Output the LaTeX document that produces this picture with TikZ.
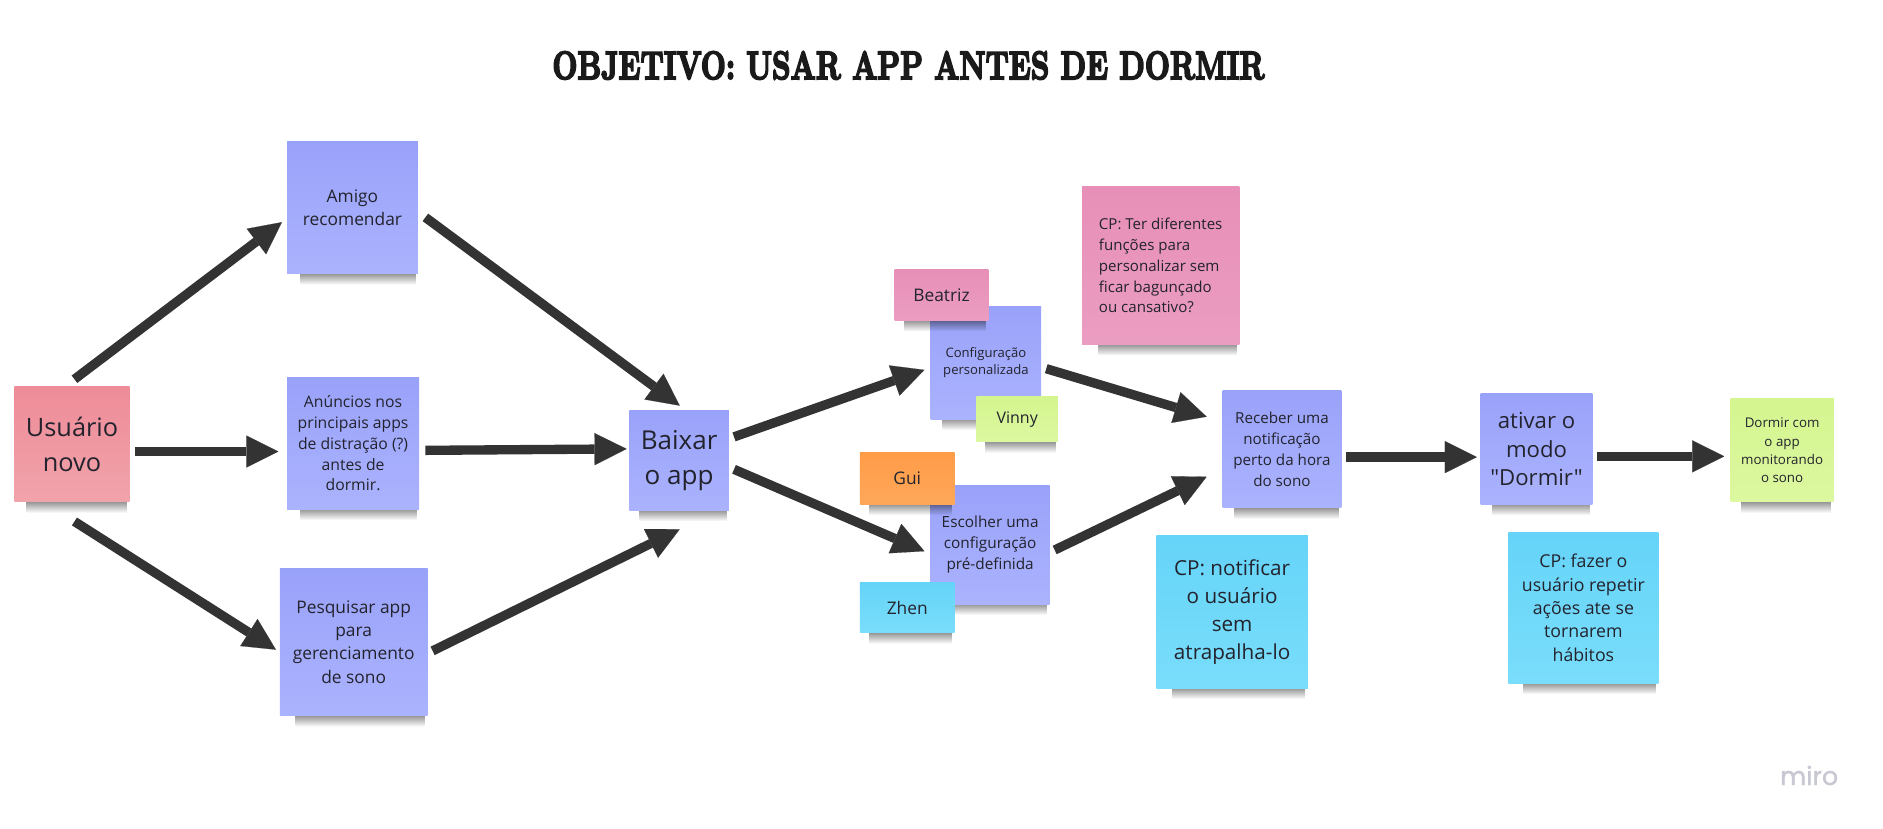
\documentclass[tikz,border=0pt]{standalone}
\usepackage{fontspec}
\usetikzlibrary{arrows.meta,fadings,calc}
\newfontfamily\osans{Open Sans}
\newfontfamily\pop{Poppins}[FakeBold=1.5]
\newfontfamily\ttl{lmroman10-bold.otf}[FakeBold=5]
\definecolor{blueT}{RGB}{153,162,249}
\definecolor{blueB}{RGB}{171,179,254}
\definecolor{redT}{RGB}{238,140,152}
\definecolor{redB}{RGB}{241,163,171}
\definecolor{pinkT}{RGB}{231,143,183}
\definecolor{pinkB}{RGB}{235,157,193}
\definecolor{greenT}{RGB}{212,245,143}
\definecolor{greenB}{RGB}{220,248,160}
\definecolor{orangeT}{RGB}{255,156,72}
\definecolor{orangeB}{RGB}{255,168,90}
\definecolor{cyanT}{RGB}{101,212,248}
\definecolor{cyanB}{RGB}{122,221,251}
\definecolor{arrowc}{RGB}{51,51,51}
\definecolor{notetext}{RGB}{35,35,45}
\definecolor{titlec}{RGB}{26,26,26}
\definecolor{mirogray}{RGB}{200,200,210}
\newcommand\stk[8]{%
  \fill[black,opacity=.5,path fading=south] ({#2+0.1*(#4-#2)},{#5-2}) rectangle ({#4-2},{#5+9});
  \node[minimum width={(#4-#2)*0.9pt}, minimum height={(#5-#3)*0.9pt}, inner sep=0pt, anchor=center,
        text=notetext, align=center, #6, #7] (#1) at ({(#2+#4)/2},{(#3+#5)/2}) {#8};}
\begin{document}
\begin{tikzpicture}[x=0.9pt,y=-0.9pt,
  bluen/.style={top color=blueT, bottom color=blueB},
  redn/.style={top color=redT, bottom color=redB},
  pinkn/.style={top color=pinkT, bottom color=pinkB},
  greenn/.style={top color=greenT, bottom color=greenB},
  orangen/.style={top color=orangeT, bottom color=orangeB},
  cyann/.style={top color=cyanT, bottom color=cyanB},
  fs/.style 2 args={font={\osans\fontsize{#1}{#2}\selectfont}},
  arr/.style={line width=7pt, draw=arrowc, -{Triangle[length=24pt,width=24pt,line width=0.1pt]}}]
\fill[white] (0,0) rectangle (1568,690);
\useasboundingbox (0,0) rectangle (1568,690);

\node[text=titlec, inner sep=0pt] (title) at (756.5,54.5)
  {\resizebox{533.7pt}{20.7pt}{\ttl OBJETIVO: USAR APP ANTES DE DORMIR}};

\stk{u}{12}{322}{108}{418}{redn}{fs={19}{25.8}}{Usuário\\novo}
\stk{amigo}{239}{118}{348}{228}{bluen}{fs={13}{17.8}}{Amigo\\recomendar}
\stk{anun}{239}{314}{349}{424}{bluen}{fs={11.8}{15.7}}{Anúncios nos\\principais apps\\de distração (?)\\antes de\\dormir.}
\stk{pesq}{233}{473}{356}{596}{bluen}{fs={13}{17.5}}{Pesquisar app\\para\\gerenciamento\\de sono}
\stk{baixar}{524}{342}{607}{425}{bluen}{fs={19.5}{26.5}}{Baixar\\o app}
\stk{config}{775}{255}{867}{349}{bluen}{fs={9.8}{13.3}}{Configuração\\personalizada}
\stk{beatriz}{745}{224}{823}{267}{pinkn}{fs={13}{16}}{Beatriz}
\stk{vinny}{813}{330}{881}{368}{greenn}{fs={12}{15}}{Vinny}
\stk{esc}{775}{404}{874}{503}{bluen}{fs={11.5}{15.7}}{Escolher uma\\configuração\\pré-definida}
\stk{gui}{716}{377}{795}{420}{orangen}{fs={13}{16}}{Gui}
\stk{zhen}{716}{485}{795}{527}{cyann}{fs={13}{16}}{Zhen}
\stk{cpter}{901}{155}{1032}{287}{pinkn}{fs={11.3}{15.7},align=left}{CP: Ter diferentes\\funções para\\personalizar sem\\ficar bagunçado\\ou cansativo?}
\stk{receber}{1018}{325}{1117}{423}{bluen}{fs={11.4}{15.7}}{Receber uma\\notificação\\perto da hora\\do sono}
\stk{cpnot}{963}{446}{1089}{573}{cyann}{fs={15.5}{21}}{CP: notificar\\o usuário\\sem\\atrapalha-lo}
\stk{ativar}{1233}{328}{1326}{420}{bluen}{fs={16.6}{21.2}}{ativar o\\modo\\"Dormir"}
\stk{cpfaz}{1256}{443}{1381}{569}{cyann}{fs={13.3}{17.5}}{CP: fazer o\\usuário repetir\\ações ate se\\tornarem\\hábitos}
\stk{dormir}{1441}{332}{1527}{418}{greenn}{fs={10}{13.7}}{Dormir com\\o app\\monitorando\\o sono}

\draw[arr] ($(u.north)+(2,-6)$) -- ($(amigo.west)+(-4,12)$);
\draw[arr] ($(u.east)+(4,6)$) -- ($(anun.west)+(-7,7)$);
\draw[arr] ($(u.south)+(2,16)$) -- ($(pesq.west)+(-3,6.5)$);
\draw[arr] ($(amigo.east)+(6,8)$) -- ($(baixar.north)+(0.5,-4)$);
\draw[arr] ($(anun.east)+(5,6)$) -- ($(baixar.west)+(-2,-9.7)$);
\draw[arr] ($(pesq.east)+(4,7.5)$) -- ($(baixar.south)+(0.5,15.5)$);
\draw[arr] ($(baixar.east)+(4,-19.7)$) -- ($(config.west)+(-5,6)$);
\draw[arr] ($(baixar.east)+(4,7.3)$) -- ($(esc.west)+(-5,5.5)$);
\draw[arr] ($(config.east)+(4,5)$) -- ($(receber.west)+(-13,-27)$);
\draw[arr] ($(esc.east)+(4,4.5)$) -- ($(receber.west)+(-13,23)$);
\draw[arr] ($(receber.east)+(4,6.6)$) -- ($(ativar.west)+(-3,6.6)$);
\draw[arr] ($(ativar.east)+(4,6)$) -- ($(dormir.west)+(-5,5)$);

\node[anchor=base, inner sep=0pt, text=mirogray] (miro) at (1506.5,653.7) {\pop\fontsize{19}{19}\selectfont miro};
\end{tikzpicture}
\end{document}
